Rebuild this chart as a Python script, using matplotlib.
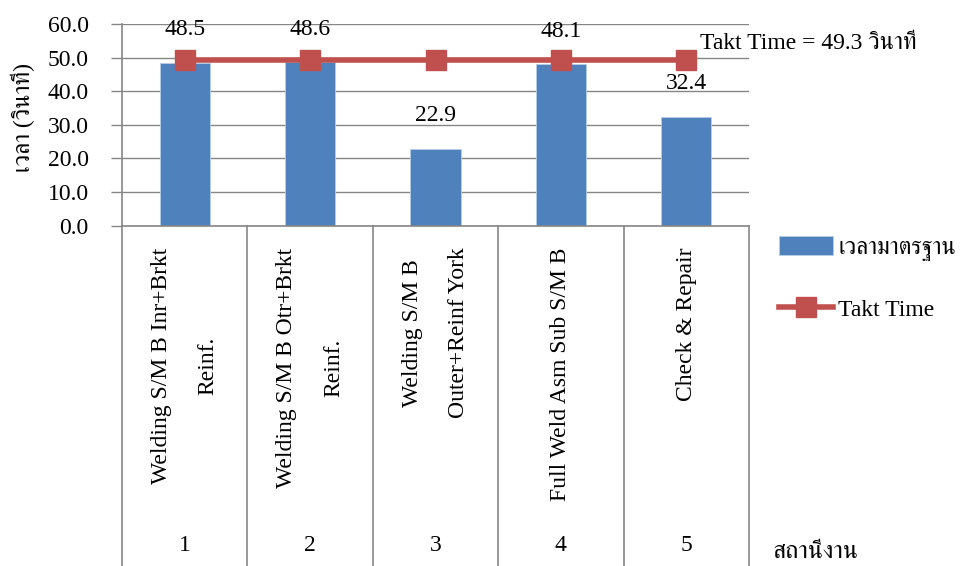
import matplotlib
matplotlib.use("Agg")
import matplotlib.pyplot as plt
from matplotlib import font_manager
from matplotlib.ft2font import FT2Font
from matplotlib.transforms import blended_transform_factory

# ---- data ----
station_numbers = ["1", "2", "3", "4", "5"]
station_names = [
    "Welding S/M B Inr+Brkt\nReinf.",
    "Welding S/M B Otr+Brkt\nReinf.",
    "Welding S/M B\nOuter+Reinf York",
    "Full Weld Asm Sub S/M B",
    "Check & Repair",
]
standard_time = [48.5, 48.6, 22.9, 48.1, 32.4]
takt_time = 49.3
takt_series = [takt_time] * len(standard_time)
y_ticks = [0, 10, 20, 30, 40, 50, 60]

series_labels = ["เวลามาตรฐาน", "Takt Time"]
y_title = "เวลา (วินาที)"
x_title = "สถานีงาน"
takt_label = f"Takt Time = {takt_time:.1f} วินาที"


def families_covering(text):
    """Installed font families that contain every glyph in ``text``."""
    names = []
    for entry in font_manager.fontManager.ttflist:
        try:
            cmap = FT2Font(entry.fname).get_charmap()
        except Exception:
            continue
        if all(ord(ch) in cmap for ch in text if not ch.isspace()):
            if entry.name not in names:
                names.append(entry.name)
    return names


thai_sample = "เวลามาตรฐานวินาทีสถานีงาน"
thai_fams = families_covering(thai_sample)
serif_first = [f for f in thai_fams if "serif" in f.lower() and "sans" not in f.lower()]
thai_pick = (serif_first + thai_fams)[:1]
plt.rcParams["font.family"] = ["Liberation Serif"] + thai_pick + ["DejaVu Sans"]

BAR = "#4F81BD"
RED = "#C0504D"
GRID = "#868686"
FS = 17

W, H = 970, 566
fig = plt.figure(figsize=(W / 100, H / 100), dpi=100)
ax_left, ax_right, ax_top, ax_bottom = 122, 749, 24, 225.7
ax = fig.add_axes([ax_left / W, 1 - ax_bottom / H,
                   (ax_right - ax_left) / W, (ax_bottom - ax_top) / H])

x = list(range(len(standard_time)))
bars = ax.bar(x, standard_time, width=0.4, color=BAR, edgecolor="#B9CDE5",
              linewidth=0.6, zorder=2, label=series_labels[0])
takt_line, = ax.plot(x, takt_series, color=RED, lw=4, marker="s", markersize=14.5,
                     markerfacecolor=RED, markeredgecolor=RED, zorder=3,
                     label=series_labels[1])

for xi, v in zip(x, standard_time):
    ax.annotate(f"{v:.1f}", xy=(xi, v), xytext=(0, 33), textcoords="offset pixels",
                ha="center", va="center", fontsize=FS, zorder=4)

ax.annotate(takt_label, xy=(4, takt_time), xytext=(14, 16),
            textcoords="offset pixels", fontsize=FS, ha="left", va="center",
            annotation_clip=False)

ax.set_xlim(-0.5, len(x) - 0.5)
ax.set_ylim(0, 60)
ax.set_yticks(y_ticks)
ax.set_yticklabels([f"{t:.1f}" for t in y_ticks], fontsize=FS)
ax.yaxis.grid(True, color=GRID, lw=1.0, zorder=0)
ax.set_axisbelow(True)
ax.tick_params(axis="y", length=8, width=1, color=GRID, pad=16)
ax.set_xticks([])

for side in ("top", "right"):
    ax.spines[side].set_visible(False)
for side in ("left", "bottom"):
    ax.spines[side].set_color(GRID)
    ax.spines[side].set_linewidth(1.2)

# multi-level category axis: separators, rotated names and station numbers
trans = blended_transform_factory(ax.transData, ax.transAxes)
depth = -(H - ax_bottom) / (ax_bottom - ax_top) - 0.05
for b in [i - 0.5 for i in range(len(x) + 1)]:
    ax.plot([b, b], [0, depth], transform=trans, clip_on=False,
            color=GRID, lw=1.2)

for xi, name, num in zip(x, station_names, station_numbers):
    ax.annotate(name, xy=(xi, 0), xytext=(0, -22), textcoords="offset pixels",
                rotation=90, ha="center", va="top", multialignment="center",
                fontsize=FS, linespacing=2.6, annotation_clip=False)
    ax.annotate(num, xy=(xi, 0), xytext=(0, -320), textcoords="offset pixels",
                ha="center", va="center", fontsize=FS, annotation_clip=False)

fig.text(23 / W, 1 - 117 / H, y_title, rotation=90, ha="center", va="center",
         fontsize=FS)
fig.text(773 / W, 1 - 541 / H, x_title, ha="left", va="top", fontsize=FS + 1)

ax.legend(handles=[bars, takt_line], labels=series_labels,
          loc="upper left", bbox_to_anchor=(779 / W, 1 - 236 / H),
          bbox_transform=fig.transFigure, frameon=False, fontsize=FS,
          handlelength=2.3, handleheight=0.85, handletextpad=0.2,
          labelspacing=1.6, borderpad=0, borderaxespad=0)

fig.savefig("out.png", dpi=100)
